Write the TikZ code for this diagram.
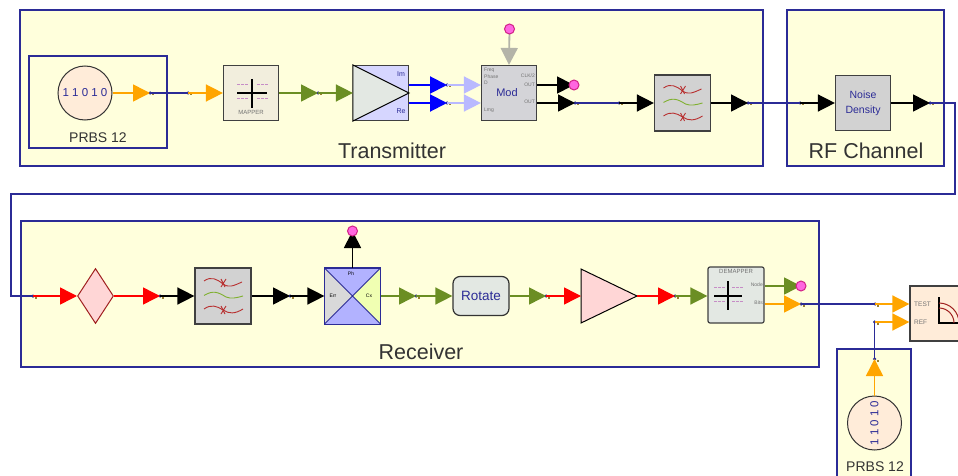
\documentclass[tikz,border=0pt]{standalone}
\usepackage{fontspec}
\setmainfont{Liberation Sans}
\usetikzlibrary{arrows.meta,shapes.geometric}
\definecolor{paneyellow}{HTML}{FFFFDC}
\definecolor{wirenavy}{HTML}{2B2B96}
\definecolor{sigorange}{HTML}{FFA500}
\definecolor{siggreen}{HTML}{6B8E23}
\definecolor{siglight}{HTML}{B9B9FF}
\definecolor{siggray}{HTML}{B4B4A8}
\definecolor{tipdark}{HTML}{A02020}
\definecolor{curvered}{HTML}{B83030}
\definecolor{curvegreen}{HTML}{80B030}
\definecolor{mapperfill}{HTML}{F2EEDD}
\definecolor{probepink}{HTML}{FF66E0}
\tikzset{
	pane/.style={draw=wirenavy,fill=paneyellow,line width=1.2pt},
	block/.style={draw=black!75,line width=1.2pt,minimum size=55pt,inner sep=0pt},
	wire/.style={draw=wirenavy,line width=1.4pt},
	sig/.style={line width=1.5pt,-{Triangle[length=17pt,width=17pt]}},
	port/.style={circle,fill=wirenavy,inner sep=0pt,minimum size=3.5pt},
	probe/.style={circle,draw=magenta!85!black,fill=probepink,line width=1pt,inner sep=0pt,minimum size=10pt},
	title/.style={font=\fontsize{21.5}{23}\selectfont,text=black!80},
	prbs title/.style={font=\fontsize{14}{16}\selectfont,text=black!80},
	prbs/.style={circle,draw=black!80,fill=orange!15,line width=1pt,minimum size=54pt,inner sep=0pt,font=\fontsize{11.5}{12}\selectfont,text=wirenavy},
	tiny label/.style={font=\fontsize{5}{6}\selectfont,text=black!55,inner sep=0pt},
	filter block/.style={block,fill=gray!35,minimum size=56pt},
}
\begin{document}
\begin{tikzpicture}[x=1pt,y=-1pt]
	\useasboundingbox (0,0) rectangle (958,476);
	\clip (0,0) rectangle (958,476);

	% panes
	\draw[pane] (20,10) rectangle (763,166);
	\draw[pane] (787,10) rectangle (944,166);
	\draw[pane] (21,221) rectangle (819,367);
	\draw[pane] (29,56) rectangle (167,148);
	\draw[pane] (837,349) rectangle (911,490);
	\node[title] (txTitle) at (392,151) {Transmitter};
	\node[title] (rfTitle) at (866,151) {RF Channel};
	\node[title] (rxTitle) at (421,352) {Receiver};
	\node[prbs title] (prbsTitleA) at (98,138) {PRBS 12};
	\node[prbs title] (prbsTitleB) at (875,467) {PRBS 12};

	% sources
	\node[prbs] (prbsA) at (85,93) {1 1 0 1 0};
	\node[prbs,rotate=90] (prbsB) at (874.5,423) {1 1 0 1 0};

	% transmitter blocks
	\node[block,fill=mapperfill] (mapper) at (251,93) {};
	\node[tiny label,font=\fontsize{6}{7}\selectfont] (mapperText) at (251,112) {MAPPER};
	\draw[line width=1.2pt] (252,79)--(252,108) (237,93)--(267,93);
	\foreach \x in {237,241,245,257,261,265}
	{
		\fill[violet!45] (\x,84) rectangle ++(2.5,1.2);
		\fill[violet!45] (\x,98) rectangle ++(2.5,1.2);
	}

	\node[block,fill=blue!16] (amp) at (381,93) {};
	\draw[fill=green!8!gray!20,line width=1pt] (amp.north west)--(amp.east)--(amp.south west)--cycle;
	\node[tiny label,font=\fontsize{7}{8}\selectfont,text=wirenavy] (ampIm) at (401,74) {Im};
	\node[tiny label,font=\fontsize{7}{8}\selectfont,text=wirenavy] (ampRe) at (401,111) {Re};

	\node[block,fill=blue!5!gray!32] (mod) at (509,93) {};
	\node[font=\fontsize{11}{12}\selectfont,text=wirenavy,inner sep=0pt] (modText) at (507,93) {Mod};
	\node[tiny label,anchor=west] (modFreq) at (484,70) {Freq};
	\node[tiny label,anchor=west] (modPhase) at (484,77) {Phase};
	\node[tiny label,anchor=west] (modD) at (484,83) {D};
	\node[tiny label,anchor=west] (modLmg) at (484,110) {Lmg};
	\node[tiny label,anchor=east] (modClk) at (535,76) {CLK/2};
	\node[tiny label,anchor=east] (modOutA) at (535,85) {OUT};
	\node[tiny label,anchor=east] (modOutB) at (535,102) {OUT};

	\node[filter block] (filtA) at (682.5,103) {};
	\node[block,fill=gray!35,align=center,font=\fontsize{10.5}{15}\selectfont,text=wirenavy] (noise) at (863,103) {Noise\\Density};

	% receiver blocks
	\node[diamond,draw=tipdark,fill=red!16,line width=1pt,minimum width=36pt,minimum height=55pt,inner sep=0pt] (atten) at (95.5,296) {};
	\node[filter block] (filtB) at (223,296) {};

	\node[block,draw=wirenavy] (carrier) at (352.5,296) {};
	\fill[blue!30] (carrier.north west) rectangle (carrier.south east);
	\fill[gray!30] (carrier.north west)--(carrier.center)--(carrier.south west)--cycle;
	\fill[green!20!yellow!30] (carrier.north east)--(carrier.center)--(carrier.south east)--cycle;
	\draw[wirenavy,line width=1pt] (carrier.north west)--(carrier.south east) (carrier.north east)--(carrier.south west);
	\draw[wirenavy,line width=1.2pt] (carrier.north west) rectangle (carrier.south east);
	\node[tiny label,text=black] (carrierPh) at (351,274) {Ph};
	\node[tiny label,text=black] (carrierErr) at (333,296) {Err};
	\node[tiny label,text=black] (carrierCx) at (369,296) {Cx};

	\node[draw=black!80,fill=green!8!gray!20,line width=1.2pt,rounded corners=7pt,minimum width=56pt,minimum height=39pt,inner sep=0pt,font=\fontsize{13.5}{14}\selectfont,text=wirenavy] (rotate) at (481,296) {Rotate};

	\coordinate (gainTop) at (581,269);
	\coordinate (gainBot) at (581,323);
	\coordinate (gainOut) at (637,296);
	\coordinate (gainIn) at (581,296);
	\draw[fill=red!16,line width=1pt] (gainTop)--(gainOut)--(gainBot)--cycle;

	\node[block,fill=green!8!gray!20,rounded corners=2pt,minimum size=56pt] (demapper) at (736,295) {};
	\node[tiny label,font=\fontsize{6}{7}\selectfont] (demapperText) at (736,271) {DEMAPPER};
	\node[tiny label,anchor=east] (demapperNode) at (763,285) {Node};
	\node[tiny label,anchor=east] (demapperBits) at (763,303) {Bits};
	\draw[line width=1.2pt] (728,281)--(728,310) (714,296)--(742,296);
	\foreach \x in {714,718,722,732,736,740}
	{
		\fill[violet!45] (\x,287) rectangle ++(2.5,1.2);
		\fill[violet!45] (\x,301) rectangle ++(2.5,1.2);
	}

	\node[block,fill=orange!15,minimum width=76pt,minimum height=55pt] (ber) at (948,313.5) {};
	\node[tiny label,anchor=west,font=\fontsize{6.5}{7}\selectfont] (berTest) at (914,304) {TEST};
	\node[tiny label,anchor=west,font=\fontsize{6.5}{7}\selectfont] (berRef) at (914,322) {REF};
	\draw[line width=1.2pt] (939,297)--(939,323)--(958,323);
	\draw[tipdark,line width=1pt] (939,303) arc (-90:0:20) (939,308) arc (-90:0:15);

	% filter curves
	\foreach \f/\x/\y in {filtA/682.5/103,filtB/223/296}
	{
		\begin{scope}[shift={(\x,\y)},line width=0.9pt]
			\draw[curvered] (-19,-15) .. controls (-12,-20) and (-6,-17) .. (0,-12) .. controls (6,-8) and (10,-10) .. (19,-14);
			\draw[curvered] (-2,-17)--(2,-9) (3,-17)--(-2,-9);
			\draw[curvegreen] (-19,-0.5) .. controls (-10,-6) and (-5,-4) .. (3,1) .. controls (8,3) and (13,2) .. (20,0);
			\draw[curvered] (-19,13) .. controls (-12,8) and (-6,10) .. (0,14) .. controls (6,18) and (12,18) .. (20,13);
			\draw[curvered] (-2,10)--(2,18) (3,10)--(-2,18);
		\end{scope}
	}

	% ports
	\foreach \n/\x/\y in {pA/150/93,pB/188/93,pC/318/93,pD/447/85,pE/447/103,pF/575/103,pG/619/103,pH/748/103,pI/800/103,pJ/930/103,pK/33/296,pL/160/296,pM/290/296,pN/416/296,pO/546/296,pP/675/296,pQ/801/304,pR/875/304,pS/874.5/322,pT/874.5/359}
	{
		\node[port] (\n) at (\x,\y) {};
		\fill[orange!60!teal] (\x+2,\y+1) rectangle ++(2,1.5);
	}
	\coordinate (bendA) at (955,103);
	\coordinate (bendB) at (955,194);
	\coordinate (bendC) at (11,194);
	\coordinate (bendD) at (11,296);
	\coordinate (probeAtA) at (509.5,29);
	\coordinate (probeAtB) at (574,85);
	\coordinate (probeAtC) at (352.5,231);
	\coordinate (probeAtD) at (801,286);

	% navy links
	\draw[wire] (pA.center)--(pB.center);
	\draw[wire] (pF.center)--(pG.center);
	\draw[wire] (pH.center)--(pI.center);
	\draw[wire] (pJ.center)--(bendA)--(bendB)--(bendC)--(bendD)--(pK.center);
	\draw[wire] (pQ.center)--(pR.center);
	\draw[wire] (pT.center)--(pS.center);

	% signals
	\draw[sig,sigorange] (prbsA.east)--(pA.center);
	\draw[sig,sigorange] (pB.center)--(mapper.west);
	\draw[sig,siggreen] (mapper.east)--(pC.center);
	\draw[sig,siggreen] (pC.center)--(amp.west);
	\draw[sig,blue,line width=2pt] (amp.east |- pD)--(pD.center);
	\draw[sig,blue,line width=2pt] (amp.east |- pE)--(pE.center);
	\draw[sig,siglight] (pD.center)--(mod.west |- pD);
	\draw[sig,siglight] (pE.center)--(mod.west |- pE);
	\draw[sig,siggray,line width=1.8pt] (probeAtA)--(mod.north);
	\draw[sig,black,line width=1.8pt] (mod.east |- pD)--(probeAtB);
	\draw[sig,black] (mod.east |- pE)--(pF.center);
	\draw[sig,black] (pG.center)--(filtA.west);
	\draw[sig,black] (filtA.east)--(pH.center);
	\draw[sig,black] (pI.center)--(noise.west);
	\draw[sig,black] (noise.east)--(pJ.center);
	\draw[sig,red] (pK.center)--(atten.west);
	\draw[sig,red] (atten.east)--(pL.center);
	\draw[sig,black] (pL.center)--(filtB.west);
	\draw[sig,black] (filtB.east)--(pM.center);
	\draw[sig,black] (pM.center)--(carrier.west);
	\draw[sig,black,line width=1.8pt] (carrier.north)--(probeAtC);
	\draw[sig,siggreen] (carrier.east)--(pN.center);
	\draw[sig,siggreen] (pN.center)--(rotate.west);
	\draw[sig,siggreen] (rotate.east)--(pO.center);
	\draw[sig,red] (pO.center)--(gainIn);
	\draw[sig,red] (gainOut)--(pP.center);
	\draw[sig,siggreen] (pP.center)--(pP -| demapper.west);
	\draw[sig,siggreen] (demapper.east |- probeAtD)--(probeAtD);
	\draw[sig,sigorange] (demapper.east |- pQ)--(pQ.center);
	\draw[sig,sigorange] (pR.center)--(ber.west |- pR);
	\draw[sig,sigorange] (pS.center)--(ber.west |- pS);
	\draw[sig,sigorange] (prbsB.east)--(pT.center);
	\node[probe] (probeA) at (probeAtA) {};
	\node[probe] (probeB) at (probeAtB) {};
	\node[probe] (probeC) at (probeAtC) {};
	\node[probe] (probeD) at (probeAtD) {};
\end{tikzpicture}
\end{document}
